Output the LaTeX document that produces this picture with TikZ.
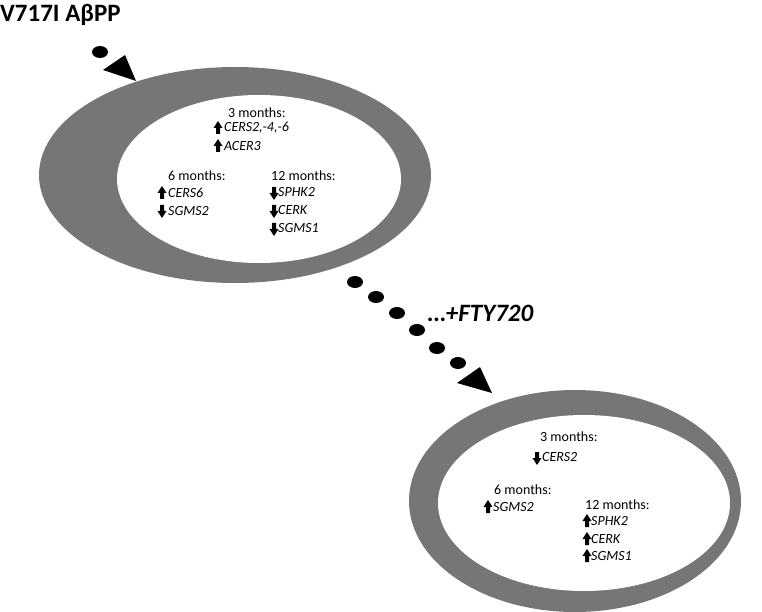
\documentclass[tikz,border=0pt]{standalone}
\usepackage{fontspec}
\setmainfont{Carlito}
\begin{document}
\begin{tikzpicture}[x=1pt,y=-1pt,
  lab/.style={anchor=west,inner sep=0pt,font=\fontsize{14}{14}\selectfont},
  gene/.style={lab,font=\fontsize{14}{14}\selectfont\itshape},
  up/.pic={\fill (-4.5,0)--(0,-7)--(4.5,0)--(2,0)--(2,6)--(-2,6)--(-2,0)--cycle;},
  dn/.pic={\fill (-4.5,0)--(0,7)--(4.5,0)--(2,0)--(2,-6)--(-2,-6)--(-2,0)--cycle;}]
\useasboundingbox (0,0) rectangle (762,612);
\definecolor{ring}{RGB}{118,118,118}
% top ellipse
\fill[ring] (235,175) ellipse [x radius=196,y radius=108];
\fill[white] (259,179) ellipse [x radius=142,y radius=84];
% bottom ellipse
\fill[ring] (575,501) ellipse [x radius=166,y radius=111];
\fill[white] (584,503) ellipse [x radius=146,y radius=88];
\node[anchor=west,inner sep=0pt,font=\fontsize{25}{25}\selectfont\bfseries] (title) at (0,15) {V717I AβPP};
% dots and arrows
\fill (100,52) ellipse [x radius=8,y radius=6];
\fill (103,70)--(125,55)--(136,81)--cycle;
\foreach \x/\y in {355/282,376/297,397/313,417/330,437/348,458/363}
  \fill (\x,\y) ellipse [x radius=8,y radius=6];
\fill (457,383)--(480,367)--(492,393)--cycle;
\node[anchor=west,inner sep=0pt,font=\fontsize{25}{25}\selectfont\bfseries\itshape] (fty) at (428,313) {…+FTY720};
% top texts
\node[lab] (t3) at (228,113) {3 months:};
\pic at (218,128) {up}; \node[gene] (g1) at (224,128) {CERS2,-4,-6};
\pic at (218,146) {up}; \node[gene] (g2) at (224,146) {ACER3};
\node[lab] (t6) at (168,176) {6 months:};
\pic at (162,193) {up}; \node[gene] (g3) at (168,193) {CERS6};
\pic at (162,211) {dn}; \node[gene] (g4) at (168,211) {SGMS2};
\node[lab] (t12) at (271,176) {12 months:};
\pic at (274,193) {dn}; \node[gene] (g5) at (278,192) {SPHK2};
\pic at (274,211) {dn}; \node[gene] (g6) at (278,210) {CERK};
\pic at (274,229) {dn}; \node[gene] (g7) at (278,228) {SGMS1};
% bottom texts
\node[lab] (b3) at (540,437) {3 months:};
\pic at (537,458) {dn}; \node[gene] (h1) at (542,457) {CERS2};
\node[lab] (b6) at (494,490) {6 months:};
\pic at (488,507) {up}; \node[gene] (h2) at (493,507) {SGMS2};
\node[lab] (b12) at (585,505) {12 months:};
\pic at (587,521) {up}; \node[gene] (h3) at (591,521) {SPHK2};
\pic at (587,539) {up}; \node[gene] (h4) at (591,539) {CERK};
\pic at (587,556) {up}; \node[gene] (h5) at (591,556) {SGMS1};
\end{tikzpicture}
\end{document}
